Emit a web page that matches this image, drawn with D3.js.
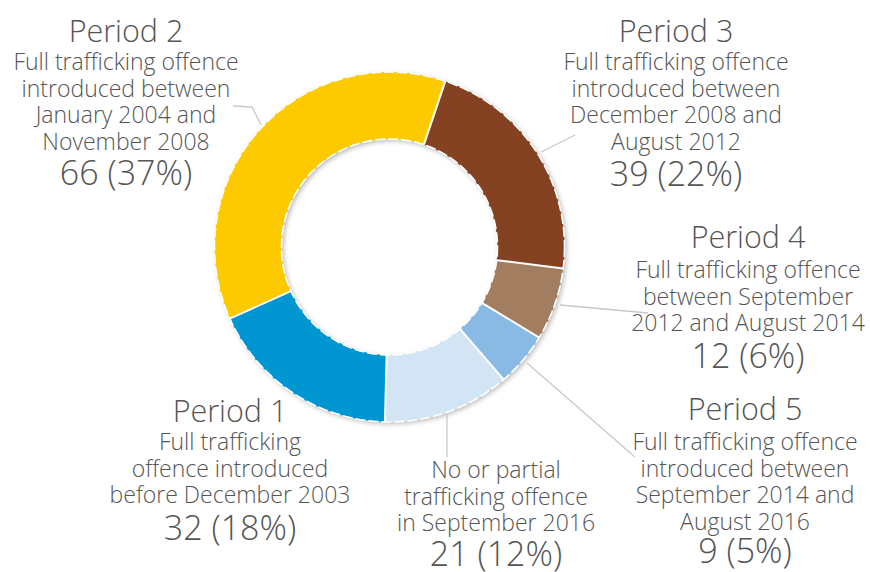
<!DOCTYPE html>
<html>
<head>
<meta charset="utf-8">
<script src="https://cdn.jsdelivr.net/npm/d3@7/dist/d3.min.js"></script>
<style>
  html, body { margin: 0; padding: 0; background: #fff; }
  svg { display: block; font-family: "Open Sans", "Noto Sans", sans-serif; font-weight: 300; }
</style>
</head>
<body>
<svg id="chart" width="870" height="572"></svg>
<script>
// Countries by period in which a full trafficking offence was introduced
const categories = ["Period 1", "Period 2", "Period 3", "Period 4", "Period 5", "No or partial"];
const counts = [32, 66, 39, 12, 9, 21];
const shares = ["18%", "37%", "22%", "6%", "5%", "12%"];
const descriptions = [
  ["Full trafficking", "offence introduced", "before December 2003"],
  ["Full trafficking offence", "introduced between", "January 2004 and", "November 2008"],
  ["Full trafficking offence", "introduced between", "December 2008 and", "August 2012"],
  ["Full trafficking offence", "between September", "2012 and August 2014"],
  ["Full trafficking offence", "introduced between", "September 2014 and", "August 2016"],
  ["No or partial", "trafficking offence", "in September 2016"]
];
const colors = ["#0396D2", "#FDCA05", "#844321", "#A37D61", "#88BAE3", "#D3E5F5"];

const svg = d3.select("#chart");
const cx = 389.5, cy = 247, outerR = 175, innerR = 108;

const defs = svg.append("defs");
const f = defs.append("filter").attr("id", "shadow")
  .attr("x", "-20%").attr("y", "-20%").attr("width", "140%").attr("height", "140%");
f.append("feDropShadow").attr("dx", 2).attr("dy", 2).attr("stdDeviation", 2.5)
  .attr("flood-color", "#000").attr("flood-opacity", 0.28);

const data = categories.map((c, i) => ({ name: c, value: counts[i], share: shares[i], lines: descriptions[i], color: colors[i] }));

const rot = 181.5 * Math.PI / 180;
const pie = d3.pie().value(d => d.value).sort(null)
  .startAngle(rot).endAngle(rot + 2 * Math.PI);
const arcs = pie(data);
const arc = d3.arc().innerRadius(innerR).outerRadius(outerR);

const g = svg.append("g").attr("transform", `translate(${cx},${cy})`);

// donut with soft shadow
const ring = g.append("g").attr("filter", "url(#shadow)");
ring.selectAll("path.slice").data(arcs).join("path")
  .attr("class", "slice")
  .attr("d", arc)
  .attr("fill", d => d.data.color);

// dashed white rim on both edges
[outerR, innerR].forEach(r => {
  g.append("circle").attr("r", r).attr("fill", "none")
    .attr("stroke", "#fff").attr("stroke-width", 1.6)
    .attr("stroke-dasharray", "10,3");
});

// solid white separators between slices
g.selectAll("line.sep").data(arcs).join("line")
  .attr("class", "sep")
  .attr("x1", d => innerR * Math.sin(d.startAngle))
  .attr("y1", d => -innerR * Math.cos(d.startAngle))
  .attr("x2", d => outerR * Math.sin(d.startAngle))
  .attr("y2", d => -outerR * Math.cos(d.startAngle))
  .attr("stroke", "#fff").attr("stroke-width", 2);

// leader lines
const leaders = [
  null,
  [[233, 106], [252, 107], [261, 125]],
  [[541, 152], [575, 135]],
  [[560, 305], [648, 313]],
  [[527, 363], [635, 457]],
  [[447, 413], [447, 457]]
];
svg.append("g").selectAll("path").data(leaders.filter(Boolean)).join("path")
  .attr("d", d => d3.line()(d))
  .attr("fill", "none").attr("stroke", "#c9c9c9").attr("stroke-width", 1.3);

// label blocks: x centre, title baseline (null = no title), first line and value baselines
const blocks = [
  { x: 230, title: 422, first: 450, val: 540 },
  { x: 126, title: 42, first: 70, val: 185 },
  { x: 676, title: 42, first: 70, val: 186 },
  { x: 748, title: 248, first: 278, val: 368 },
  { x: 745, title: 420, first: 450, val: 563 },
  { x: 496, title: null, first: 478, val: 566 }
];
const gap = 26.7;
const labels = svg.append("g").attr("fill", "#555").attr("text-anchor", "middle");
data.forEach((d, i) => {
  const b = blocks[i];
  const t = labels.append("g");
  if (b.title !== null) {
    t.append("text").attr("x", b.x).attr("y", b.title)
      .attr("font-size", 30.5).text(d.name);
  }
  d.lines.forEach((ln, j) => {
    t.append("text").attr("x", b.x).attr("y", b.first + j * gap)
      .attr("font-size", 23).text(ln);
  });
  t.append("text").attr("x", b.x).attr("y", b.val)
    .attr("font-size", 34).text(`${d.value} (${d.share})`);
});
</script>
</body>
</html>
